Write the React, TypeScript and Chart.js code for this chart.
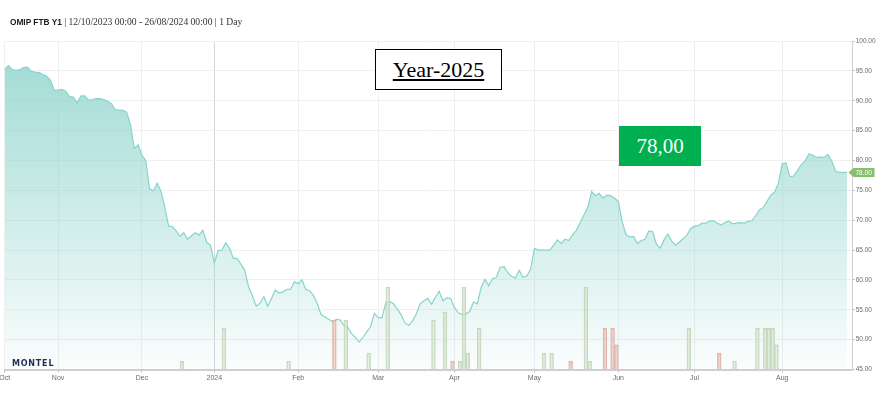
import React, { useEffect, useRef } from 'react';
import { Chart, registerables } from 'chart.js';

Chart.register(...registerables);

// ---- Data ----
const START_DATE = '2023-10-12';
const END_DATE = '2024-08-26';
const HOLIDAYS = ['2023-12-25', '2023-12-26', '2024-01-01', '2024-03-29', '2024-04-01', '2024-05-01'];
const MONTH_LABELS = ['Oct', 'Nov', 'Dec', '2024', 'Feb', 'Mar', 'Apr', 'May', 'Jun', 'Jul', 'Aug'];

const PRICES_OCT = [95.3, 95.9, 95.2, 95.1, 95.2, 95.6, 95.6, 94.9, 94.8, 94.75, 94.4, 94.1, 93.4, 91.7];
const PRICES_NOV = [91.8, 91.9, 91.6, 90.7, 90.6, 89.6, 90.8, 90.8, 90.1, 90.2, 90.35, 90.35, 90.2, 89.9, 89.5, 88.5, 88.45, 88.4, 88.1, 86.0, 82.0, 82.6];
const PRICES_DEC = [80.9, 80.0, 75.3, 74.9, 76.2, 74.9, 72.2, 69.0, 68.9, 68.2, 67.3, 67.9, 66.8, 67.4, 67.9, 67.5, 68.3, 66.3, 65.8];
const PRICES_JAN = [62.8, 64.9, 65.0, 66.2, 65.3, 63.6, 63.6, 62.6, 61.6, 58.8, 57.3, 55.6, 56.1, 57.2, 55.6, 56.9, 58.3, 57.8, 58.0, 58.4, 58.45, 59.7];
const PRICES_FEB = [59.4, 60.0, 58.4, 58.2, 57.4, 56.1, 54.2, 53.8, 53.4, 53.0, 53.4, 53.3, 52.4, 52.1, 51.0, 50.4, 49.6, 50.4, 51.3, 52.2, 54.4];
const PRICES_MAR = [53.7, 53.7, 56.2, 56.4, 56.0, 55.1, 54.2, 52.8, 52.4, 53.1, 54.3, 56.0, 56.5, 56.9, 55.9, 57.1, 58.1, 56.5, 57.0, 56.9];
const PRICES_APR = [55.4, 54.5, 54.24, 54.3, 54.7, 56.3, 56.0, 58.7, 60.1, 59.0, 60.2, 60.4, 62.1, 62.2, 61.2, 60.6, 60.3, 61.6, 60.4, 60.7, 61.8];
const PRICES_MAY = [65.3, 65.0, 65.0, 65.0, 65.0, 65.8, 66.7, 66.1, 66.8, 66.6, 67.6, 68.3, 69.6, 70.9, 72.2, 74.8, 74.1, 74.5, 73.7, 74.2, 74.1, 73.7];
const PRICES_JUN = [73.1, 69.8, 67.6, 67.2, 67.3, 66.1, 66.6, 66.8, 68.2, 68.1, 66.0, 65.3, 66.7, 67.7, 66.5, 65.8, 66.3, 66.9, 67.5, 68.6];
const PRICES_JUL = [69.0, 69.1, 69.5, 69.5, 69.9, 69.9, 69.5, 69.2, 69.6, 69.86, 69.4, 69.5, 69.6, 69.5, 69.8, 69.9, 70.7, 71.7, 72.1, 73.1, 74.2, 74.7, 76.2];
const PRICES_AUG = [79.5, 79.6, 77.3, 77.4, 78.3, 79.3, 79.9, 81.1, 80.9, 80.5, 80.6, 80.5, 81.0, 79.9, 78.2, 78.0, 78.0, 78.0];

const VOL_DATES = [
  '2023-12-18', '2024-01-05', '2024-01-30', '2024-02-14', '2024-02-20', '2024-02-28', '2024-03-06',
  '2024-03-22', '2024-03-27', '2024-03-28', '2024-04-04', '2024-04-05', '2024-04-08', '2024-04-11',
  '2024-05-07', '2024-05-09', '2024-05-15', '2024-05-22', '2024-05-23', '2024-05-28', '2024-05-30',
  '2024-05-31', '2024-06-28', '2024-07-09', '2024-07-16', '2024-07-24', '2024-07-26', '2024-07-29',
  '2024-07-30', '2024-07-31',
];
const VOL_QTY = [1, 5, 1, 6, 6, 2, 10, 6, 7, 1, 1, 10, 2, 5, 2, 2, 1, 10, 1, 5, 5, 3, 5, 2, 1, 5, 5, 5, 5, 3];
const VOL_SIDE = ['g', 'g', 'g', 'r', 'g', 'g', 'g', 'g', 'g', 'r', 'g', 'g', 'g', 'g', 'g', 'g', 'r', 'g', 'g', 'r', 'r', 'r', 'g', 'r', 'g', 'g', 'g', 'g', 'g', 'g'];

const LAST_PRICE = 78.0;

function tradingDays(): string[] {
  const out: string[] = [];
  const d = new Date(START_DATE + 'T00:00:00Z');
  const end = new Date(END_DATE + 'T00:00:00Z');
  while (d <= end) {
    const wd = d.getUTCDay();
    const s = d.toISOString().slice(0, 10);
    if (wd !== 0 && wd !== 6 && !HOLIDAYS.includes(s)) out.push(s);
    d.setUTCDate(d.getUTCDate() + 1);
  }
  return out;
}

export default function App() {
  const ref = useRef<HTMLCanvasElement>(null);

  useEffect(() => {
    if (!ref.current) return;
    const days = tradingDays();
    const prices = [
      ...PRICES_OCT, ...PRICES_NOV, ...PRICES_DEC, ...PRICES_JAN, ...PRICES_FEB, ...PRICES_MAR,
      ...PRICES_APR, ...PRICES_MAY, ...PRICES_JUN, ...PRICES_JUL, ...PRICES_AUG,
    ];
    const monthStarts: number[] = [];
    days.forEach((d, i) => {
      if (i === 0 || d.slice(0, 7) !== days[i - 1].slice(0, 7)) monthStarts.push(i);
    });
    const janIdx = monthStarts[3];
    const lineData = prices.map((p, i) => ({ x: i, y: p }));
    const greenBars: { x: number; y: number }[] = [];
    const redBars: { x: number; y: number }[] = [];
    VOL_DATES.forEach((d, k) => {
      const i = days.indexOf(d);
      const pt = { x: i, y: VOL_QTY[k] };
      (VOL_SIDE[k] === 'r' ? redBars : greenBars).push(pt);
    });
    const lastIdx = prices.length - 1;

    const tagPlugin = {
      id: 'lastTag',
      afterDraw(chart: any) {
        const c = chart.ctx;
        const px = chart.scales.x.getPixelForValue(lastIdx) + 1.5;
        const py = chart.scales.y.getPixelForValue(LAST_PRICE);
        const h = 9;
        c.save();
        c.fillStyle = '#86c06c';
        c.beginPath();
        c.moveTo(px, py);
        c.lineTo(px + 5, py - h / 2);
        c.lineTo(px + 26, py - h / 2);
        c.lineTo(px + 26, py + h / 2);
        c.lineTo(px + 5, py + h / 2);
        c.closePath();
        c.fill();
        c.fillStyle = '#ffffff';
        c.font = '6.5px "Liberation Sans", Arial, sans-serif';
        c.textBaseline = 'middle';
        c.textAlign = 'left';
        c.fillText(LAST_PRICE.toFixed(2), px + 7, py + 0.5);
        c.restore();
      },
    };

    const chart = new Chart(ref.current, {
      type: 'line',
      data: {
        datasets: [
          {
            type: 'bar',
            data: greenBars,
            yAxisID: 'yVol',
            backgroundColor: 'rgba(215,232,208,0.6)',
            borderColor: 'rgba(190,208,182,0.85)',
            borderWidth: 1,
            barThickness: 3.8,
            order: 0,
          } as any,
          {
            type: 'bar',
            data: redBars,
            yAxisID: 'yVol',
            backgroundColor: 'rgba(238,198,190,0.7)',
            borderColor: 'rgba(220,172,164,0.9)',
            borderWidth: 1,
            barThickness: 3.8,
            order: 0,
          } as any,
          {
            type: 'line',
            data: lineData,
            yAxisID: 'y',
            borderColor: '#86d5cc',
            borderWidth: 1.2,
            pointRadius: 0,
            tension: 0,
            fill: 'start',
            backgroundColor: (ctx: any) => {
              const area = ctx.chart.chartArea;
              if (!area) return 'rgba(140,211,203,0.4)';
              const g = ctx.chart.ctx.createLinearGradient(0, area.top, 0, area.bottom);
              g.addColorStop(0, 'rgba(140,211,203,0.85)');
              g.addColorStop(1, 'rgba(140,211,203,0.04)');
              return g;
            },
            order: 1,
          } as any,
        ],
      },
      options: {
        responsive: false,
        animation: false,
        layout: { padding: { left: 4.7, top: 41, right: 0, bottom: 0 } },
        plugins: { legend: { display: false }, tooltip: { enabled: false } },
        scales: {
          x: {
            type: 'linear',
            min: 0,
            max: 222.5,
            offset: false,
            afterBuildTicks: (s: any) => {
              s.ticks = monthStarts.map((v) => ({ value: v }));
            },
            afterFit: (s: any) => {
              s.height = 23.5;
              s.paddingLeft = 0;
              s.paddingRight = 0;
            },
            ticks: {
              autoSkip: false,
              maxRotation: 0,
              padding: 1,
              color: '#6b6b6b',
              font: { family: '"Liberation Sans", Arial, sans-serif', size: 7 },
              callback: (_v: any, i: number) => MONTH_LABELS[i],
            },
            grid: {
              offset: false,
              color: (ctx: any) => (ctx.tick && ctx.tick.value === janIdx ? '#d6d6d6' : '#efefef'),
              tickLength: 3,
              tickColor: '#bdbdbd',
            },
            border: { color: '#cfcfcf', width: 2 },
          },
          y: {
            position: 'right',
            min: 45,
            max: 100,
            afterFit: (s: any) => {
              s.width = 28.3;
            },
            ticks: {
              stepSize: 5,
              padding: 1,
              color: '#6b6b6b',
              font: { family: '"Liberation Sans", Arial, sans-serif', size: 6.5 },
              callback: (v: any) => Number(v).toFixed(2),
            },
            grid: { color: '#f0f0f0', tickLength: 2, tickColor: '#bdbdbd' },
            border: { color: '#cfcfcf', width: 1 },
          },
          yVol: { display: false, min: 0, max: 40 },
        },
      } as any,
      plugins: [tagPlugin],
    });
    return () => chart.destroy();
  }, []);

  return (
    <div
      style={{
        position: 'absolute',
        left: 0,
        top: 0,
        width: 881,
        height: 393,
        background: '#fff',
        overflow: 'hidden',
      }}
    >
      <canvas ref={ref} width={881} height={393} style={{ position: 'absolute', left: 0, top: 0, width: 881, height: 393 }} />
      <div
        style={{
          position: 'absolute',
          left: 10,
          top: 16,
          fontSize: 9.6,
          lineHeight: '12px',
          whiteSpace: 'nowrap',
          color: '#333',
          fontFamily: '"Liberation Serif", serif',
        }}
      >
        <span style={{ fontFamily: '"Liberation Sans", Arial, sans-serif', fontWeight: 'bold', fontSize: 8.3, color: '#1a1a1a' }}>
          OMIP FTB Y1
        </span>{' '}
        | 12/10/2023 00:00 - 26/08/2024 00:00 | 1 Day
      </div>
      <div
        style={{
          position: 'absolute',
          left: 375,
          top: 49,
          width: 127,
          height: 41,
          boxSizing: 'border-box',
          border: '1px solid #000',
          background: '#fff',
          display: 'flex',
          alignItems: 'center',
          justifyContent: 'center',
          fontFamily: '"Liberation Serif", serif',
          fontSize: 22,
          textDecoration: 'underline',
          color: '#000',
        }}
      >
        Year-2025
      </div>
      <div
        style={{
          position: 'absolute',
          left: 619,
          top: 126,
          width: 82,
          height: 40,
          background: '#00b050',
          display: 'flex',
          alignItems: 'center',
          justifyContent: 'center',
          fontFamily: '"Liberation Serif", serif',
          fontSize: 21,
          color: '#fff',
        }}
      >
        78,00
      </div>
      <div
        style={{
          position: 'absolute',
          left: 12,
          top: 359,
          fontFamily: '"DejaVu Sans", sans-serif',
          fontWeight: 'bold',
          fontSize: 8,
          letterSpacing: 0.8,
          lineHeight: '10px',
          color: '#1d2f55',
        }}
      >
        MONTEL
      </div>
    </div>
  );
}
